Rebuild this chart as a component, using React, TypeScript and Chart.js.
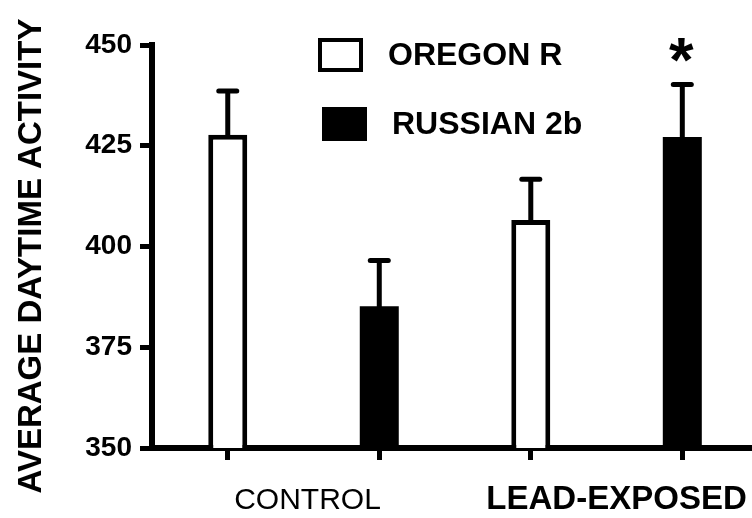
import React, { useEffect, useRef } from "react";
import { Chart, registerables } from "chart.js";

Chart.register(...registerables);

const groupLabels = ["CONTROL", "LEAD-EXPOSED"];
const seriesNames = ["OREGON R", "RUSSIAN 2b"];
const oregonMeans = [427.7, 406.6];
const oregonErrors = [10.9, 10.1];
const russianMeans = [385.2, 427.2];
const russianErrors = [11.3, 13.0];
const significant = [[false, false], [false, true]]; // [series][group]
const yTicks = [350, 375, 400, 425, 450];
const yTitle = "AVERAGE DAYTIME ACTIVITY";

const FONT = "'Liberation Sans', Arial, sans-serif";

export default function App() {
  const ref = useRef<HTMLCanvasElement | null>(null);

  useEffect(() => {
    document.body.style.margin = "0";
    const canvas = ref.current;
    if (!canvas) return;

    const oregonData = oregonMeans.map((v, i) => ({ x: i * 2, y: v }));
    const russianData = russianMeans.map((v, i) => ({ x: i * 2 + 1, y: v }));
    const errs = [oregonErrors, russianErrors];

    const overlay = {
      id: "overlay",
      afterDatasetsDraw(chart: any) {
        const ctx = chart.ctx;
        const ys = chart.scales.y;
        const xs = chart.scales.x;
        ctx.save();
        // error bars
        chart.data.datasets.forEach((ds: any, di: number) => {
          const meta = chart.getDatasetMeta(di);
          meta.data.forEach((el: any, i: number) => {
            const v = ds.data[i].y;
            const top = ys.getPixelForValue(v);
            const cap = ys.getPixelForValue(v + errs[di][i]);
            ctx.strokeStyle = "#000";
            ctx.lineWidth = 5;
            ctx.lineCap = "butt";
            ctx.beginPath();
            ctx.moveTo(el.x, top + 2);
            ctx.lineTo(el.x, cap);
            ctx.stroke();
            ctx.lineCap = "round";
            ctx.lineWidth = 5;
            ctx.beginPath();
            ctx.moveTo(el.x - 9, cap);
            ctx.lineTo(el.x + 9, cap);
            ctx.stroke();
            if (significant[di][i]) {
              ctx.font = `bold 100px ${FONT}`;
              const m = ctx.measureText("*");
              const h100 = m.actualBoundingBoxAscent + m.actualBoundingBoxDescent;
              const size = (24 / h100) * 100;
              ctx.font = `bold ${size}px ${FONT}`;
              const m2 = ctx.measureText("*");
              const asc = m2.actualBoundingBoxAscent;
              const desc = m2.actualBoundingBoxDescent;
              const centerY = cap - 34.5;
              const baseline = centerY + (asc - desc) / 2;
              ctx.fillStyle = "#000";
              ctx.textAlign = "center";
              ctx.textBaseline = "alphabetic";
              ctx.fillText("*", el.x - 1, baseline);
            }
          });
        });

        // group labels
        ctx.fillStyle = "#000";
        ctx.textAlign = "center";
        ctx.textBaseline = "alphabetic";
        ctx.font = `30px ${FONT}`;
        ctx.fillText(groupLabels[0], xs.getPixelForValue(0.5) + 4, 509);
        ctx.font = `bold 33px ${FONT}`;
        ctx.fillText(groupLabels[1], xs.getPixelForValue(2.5) + 10, 509);

        // y title
        ctx.save();
        ctx.translate(41, 256);
        ctx.rotate(-Math.PI / 2);
        ctx.font = `bold 33px ${FONT}`;
        ctx.textAlign = "center";
        ctx.textBaseline = "alphabetic";
        ctx.fillText(yTitle, 0, 0);
        ctx.restore();

        // legend
        ctx.lineWidth = 4;
        ctx.strokeStyle = "#000";
        ctx.fillStyle = "#fff";
        ctx.fillRect(320, 40, 41, 30);
        ctx.strokeRect(320, 40, 41, 30);
        ctx.fillStyle = "#000";
        ctx.fillRect(322, 107, 45, 34);
        ctx.font = `bold 32px ${FONT}`;
        ctx.textAlign = "left";
        ctx.textBaseline = "middle";
        ctx.fillText(seriesNames[0], 388, 56);
        ctx.fillText(seriesNames[1], 392, 125);
        ctx.restore();
      },
    };

    const chart = new Chart(canvas, {
      type: "bar",
      data: {
        datasets: [
          {
            label: seriesNames[0],
            data: oregonData as any,
            backgroundColor: "#ffffff",
            borderColor: "#000000",
            borderWidth: 5,
            borderSkipped: false,
            grouped: false,
            barPercentage: 0.2574,
            categoryPercentage: 1,
          },
          {
            label: seriesNames[1],
            data: russianData as any,
            backgroundColor: "#000000",
            borderColor: "#000000",
            borderWidth: 0,
            borderSkipped: false,
            grouped: false,
            barPercentage: 0.2574,
            categoryPercentage: 1,
          },
        ],
      },
      options: {
        responsive: false,
        animation: false,
        layout: { padding: { top: 45, left: 0, right: 0, bottom: 0 } },
        plugins: {
          legend: { display: false },
          tooltip: { enabled: false },
          title: { display: false },
        },
        scales: {
          x: {
            type: "linear",
            min: -0.5,
            max: 3.46,
            offset: false,
            afterBuildTicks: (scale: any) => {
              scale.ticks = [0, 1, 2, 3].map((v) => ({ value: v }));
            },
            afterFit: (scale: any) => {
              scale.height = 70;
            },
            ticks: { display: false },
            grid: {
              display: true,
              offset: false,
              drawOnChartArea: false,
              drawTicks: true,
              tickLength: 12,
              tickWidth: 5,
              tickColor: "#000",
            },
            border: { display: true, width: 6, color: "#000" },
          },
          y: {
            min: 350,
            max: 450,
            afterBuildTicks: (scale: any) => {
              scale.ticks = yTicks.map((v) => ({ value: v }));
            },
            afterFit: (scale: any) => {
              scale.width = 152;
            },
            ticks: {
              color: "#000",
              padding: 8,
              font: { family: FONT, size: 28, weight: "bold" },
            },
            grid: {
              display: true,
              drawOnChartArea: false,
              drawTicks: true,
              tickLength: 12,
              tickWidth: 5,
              tickColor: "#000",
            },
            border: { display: true, width: 6, color: "#000" },
          },
        },
      },
      plugins: [overlay],
    });

    return () => chart.destroy();
  }, []);

  return (
    <canvas
      ref={ref}
      width={752}
      height={518}
      style={{ display: "block", width: 752, height: 518 }}
    />
  );
}
